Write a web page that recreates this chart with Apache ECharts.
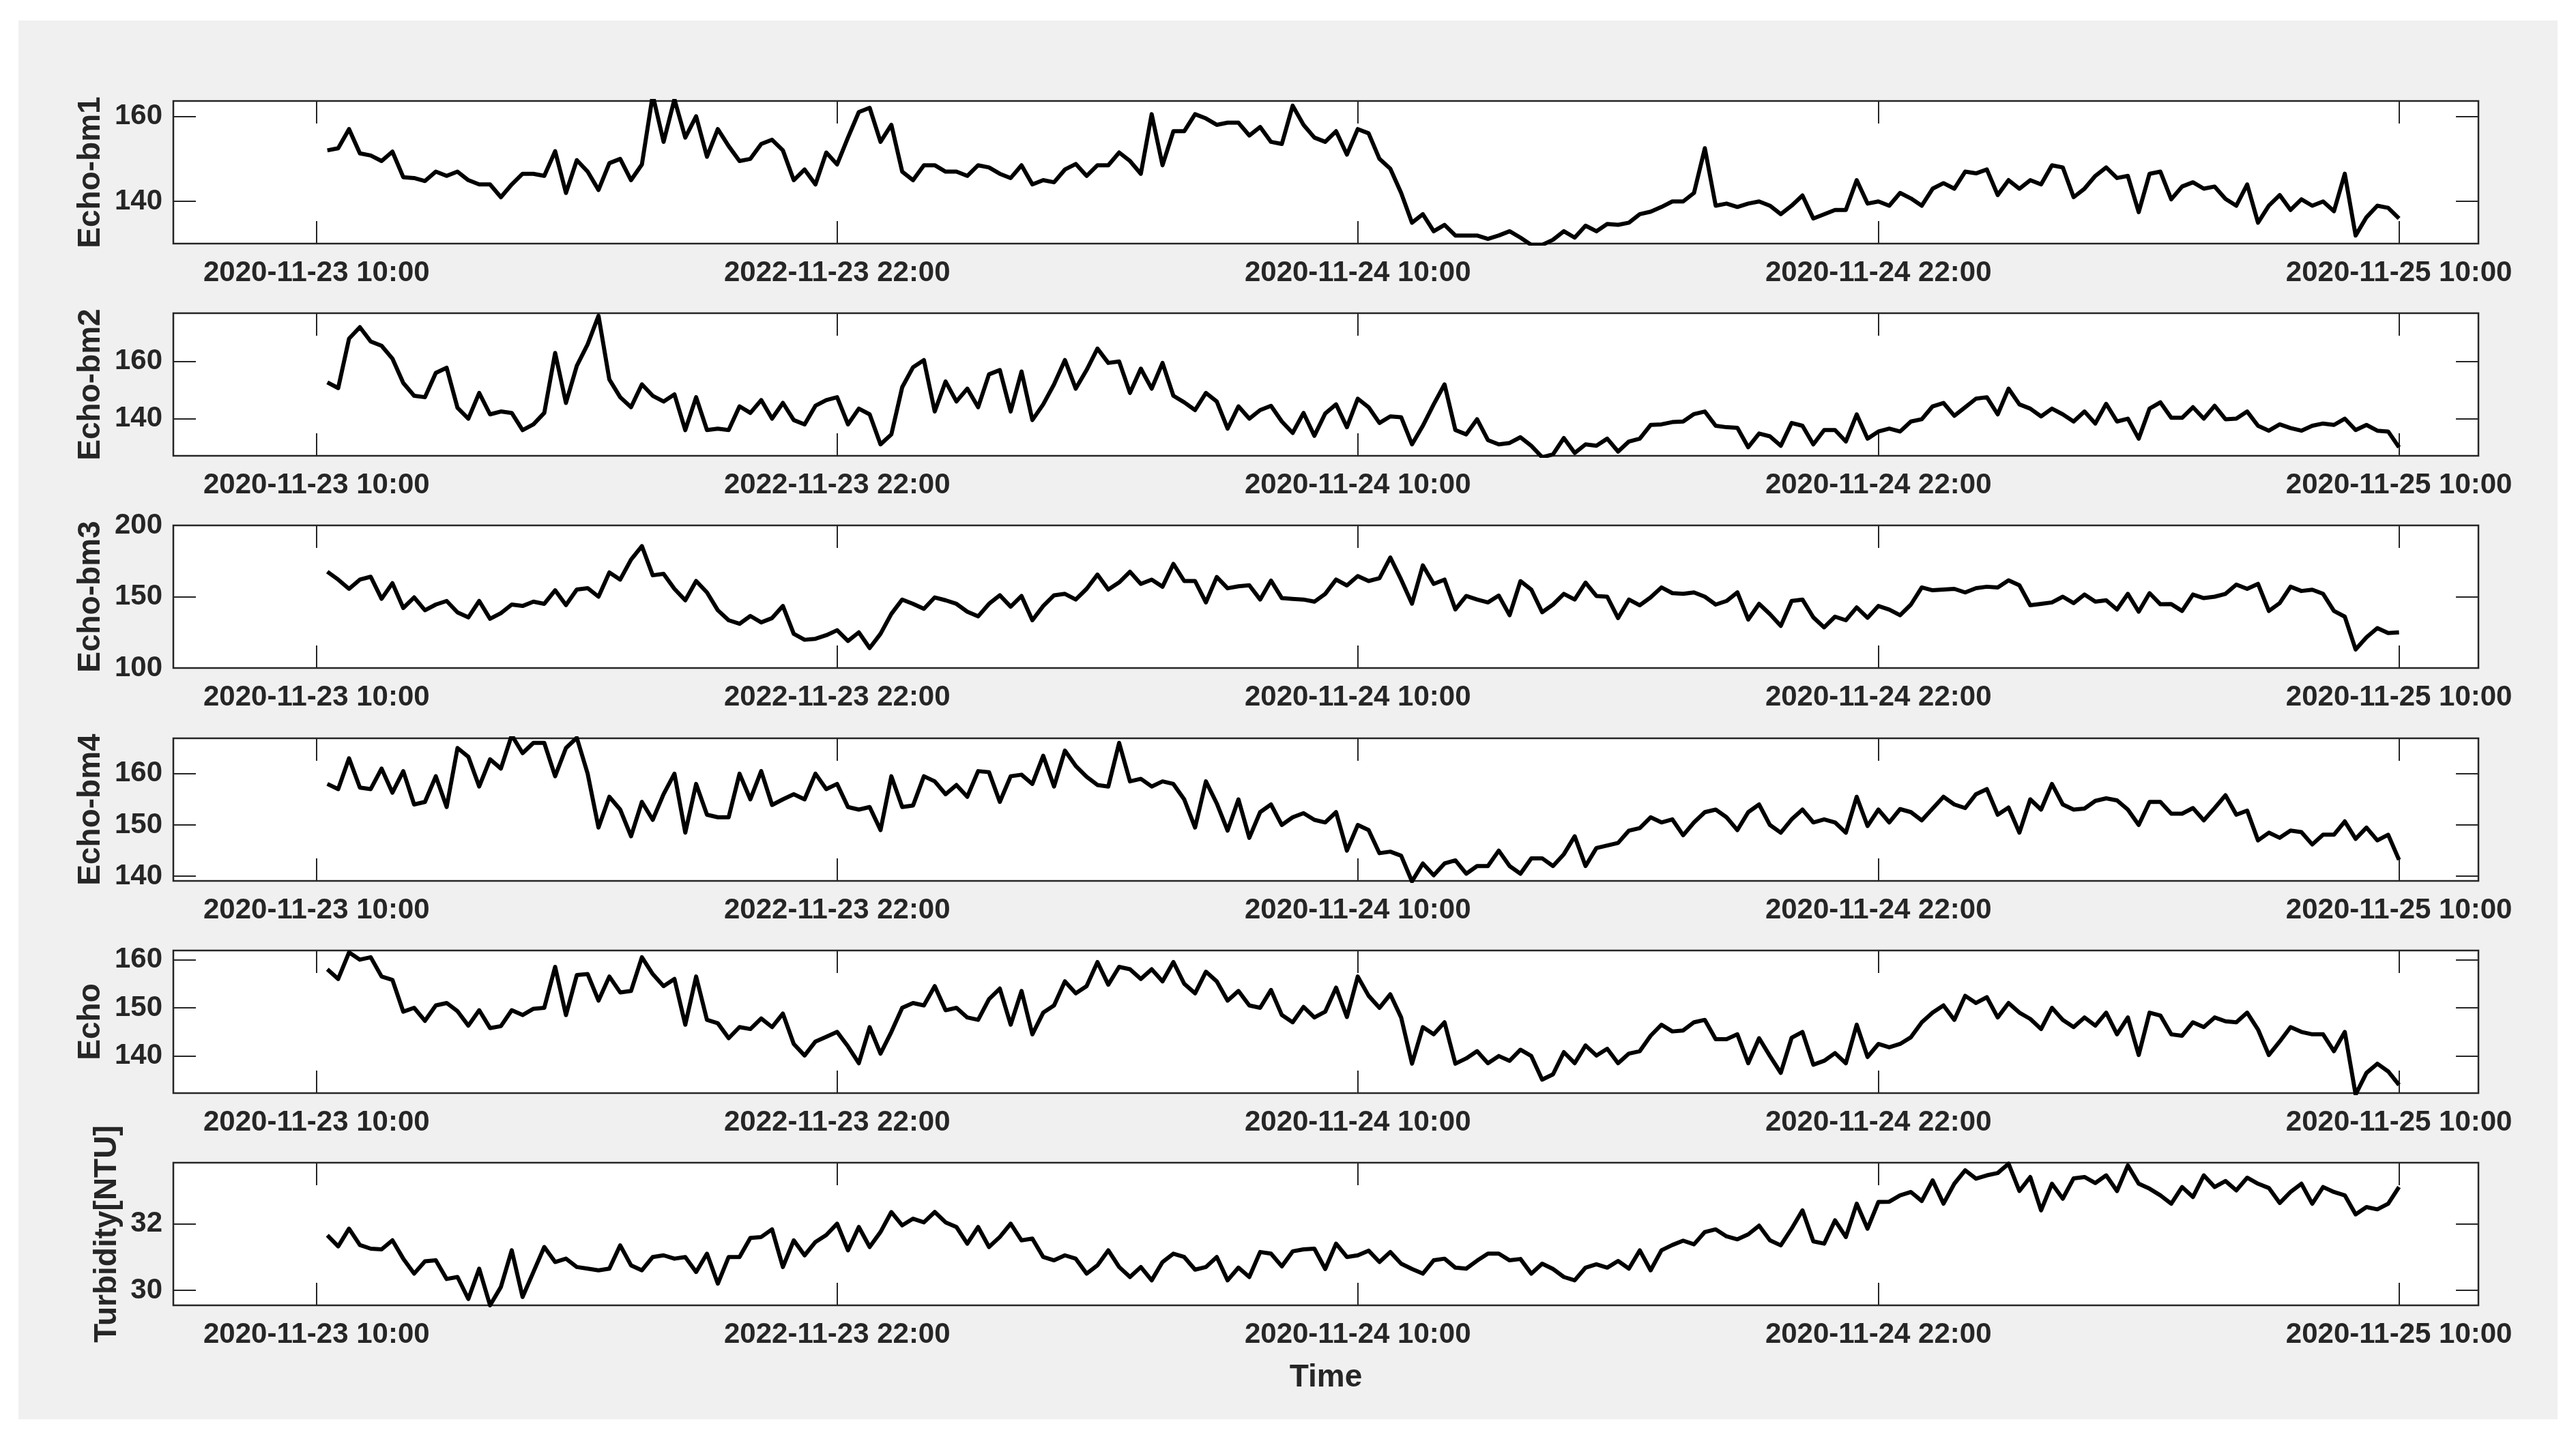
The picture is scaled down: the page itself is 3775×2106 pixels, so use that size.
<!DOCTYPE html>
<html>
<head>
<meta charset="utf-8">
<title>Echo / Turbidity</title>
<script src="https://cdn.jsdelivr.net/npm/echarts@6/dist/echarts.min.js"></script>
<style>
    html, body { margin: 0; padding: 0; background: #fff; }
    #chart { width: 3775px; height: 2106px; }
</style>
</head>
<body>
<div id="chart"></div>
<script>
// sampling: hours since 2020-11-23 00:00, one reading every 15 min
var startHour = 10.25;
var stepHour = 0.25;

var tickHours = [10, 22, 34, 46, 58];
var tickLabels = ['2020-11-23 10:00', '2022-11-23 22:00', '2020-11-24 10:00', '2020-11-24 22:00', '2020-11-25 10:00'];

var panelNames = ['Echo-bm1', 'Echo-bm2', 'Echo-bm3', 'Echo-bm4', 'Echo', 'Turbidity[NTU]'];
var yMin = [130.1, 127, 100, 139.1, 132.3, 29.55];
var yMax = [163.6, 176.9, 200, 166.9, 161.9, 33.83];
var yTicks = [[140, 160], [140, 160], [100, 150, 200], [140, 150, 160], [140, 150, 160], [30, 32]];

var echoBm1 = [
    152, 152.5, 157, 151.3, 150.8, 149.5, 151.7, 145.7, 145.5, 144.8, 147, 146, 147, 145, 144, 144, 141, 144, 146.5, 146.5,
    146, 151.8, 142, 149.7, 147, 142.7, 149, 150, 145, 148.7, 165, 154, 164, 155, 160, 150.5, 157, 153, 149.5, 150,
    153.5, 154.5, 152, 145, 147.5, 144, 151.5, 148.7, 155, 161,
    162, 154, 158, 147, 145, 148.5, 148.5, 147, 147, 146, 148.5, 148, 146.5, 145.5, 148.5, 144, 145, 144.5, 147.5, 148.8,
    146, 148.5, 148.5, 151.5, 149.5, 146.5, 160.5, 148.5, 156.5, 156.5, 160.5, 159.5, 158, 158.5, 158.5, 155.5, 157.5, 154, 153.5, 162.5,
    158, 155, 154, 156.5, 151, 157, 156, 150, 147.7, 142, 135, 137, 133, 134.5, 132, 132, 132, 131.2, 132, 133,
    131.5, 129.8, 129.8, 131, 133, 131.5, 134.3, 133, 134.7, 134.5, 135, 137, 137.6, 138.7, 140, 140, 142, 152.5,
    139, 139.5, 138.7, 139.5, 140, 139, 137, 139, 141.4, 136, 137, 138, 138, 145, 139.5, 140, 139, 142, 140.7, 139,
    143, 144.3, 143, 147, 146.6, 147.5, 141.5, 145, 143, 145, 144, 148.5, 148, 141, 143, 146, 148, 145.5, 146, 137.5,
    146.5, 147, 140.5, 143.5, 144.5, 143, 143.5, 140.6, 139, 144, 135, 139, 141.5, 138, 140.5, 139, 140, 137.7, 146.5, 132,
    136.3, 139, 138.5, 136
];

var echoBm2 = [
    152.7, 150.7, 168, 172, 167, 165.5, 161, 152.5, 148, 147.5, 156, 157.8, 143.8, 140, 149, 141.5, 142.5, 142, 136, 138,
    142, 163, 145.5, 158.5, 166, 176, 153.7, 147.5, 144, 152, 148, 146, 148.5, 136, 147.5, 136, 136.5, 136, 144.3, 142,
    146.5, 140, 145.5, 139.5, 138, 144.5, 146.5, 147.5, 138, 143.5,
    141.5, 131, 134.5, 151, 158, 160.5, 142.5, 153, 146, 150.5, 144, 155.5, 157, 142.5, 156.5, 139.5, 145, 152, 160.5, 150.5,
    157, 164.5, 159.5, 160, 149, 157.5, 150.5, 159.5, 148, 145.7, 143, 149, 146, 136.5, 144.3, 140, 143, 144.5, 139, 135,
    142, 134, 141.8, 145, 137, 147, 144, 138.5, 140.8, 140.5, 131, 137.5, 145, 152, 136, 134.5, 139.8, 132.5, 131, 131.5,
    133.5, 130.5, 126.5, 127.5, 133.2, 128, 131, 130.5, 133, 128.5, 132, 133, 137.8, 138, 138.8, 139, 141.6, 142.5,
    137.5, 137, 136.8, 130, 134.8, 133.8, 130.5, 138.5, 137.5, 131, 136, 136, 132, 141.5, 133, 135.5, 136.5, 135.5, 139, 139.8,
    144.3, 145.5, 141, 144, 147, 147.5, 141.5, 150.5, 145, 143.5, 140.8, 143.5, 141.5, 139, 142.5, 138.3, 145.2, 139, 140, 133,
    143.5, 145.7, 140.3, 140.3, 144, 140, 144.5, 139.8, 140, 142.5, 137.5, 135.8, 138, 136.7, 135.8, 137.5, 138.3, 137.8, 140, 136,
    137.8, 135.8, 135.5, 130
];

var echoBm3 = [
    167.5, 162, 155.5, 162, 164, 148.5, 159.5, 142.1, 149.5, 140.5, 144.5, 147, 139, 135.5, 147, 134.5, 138.5, 144.5, 143.5, 146.5,
    145, 154.5, 144.1, 155, 156, 150, 167, 162, 176, 185.5, 165, 166, 155.5, 147.5, 161, 153, 140.5, 133.5, 131, 136.5,
    132, 135, 143.5, 124, 119.8, 120.5, 123, 126.5, 119, 125,
    114, 124, 138, 148, 145, 141.5, 149.5, 147.5, 145, 139.5, 136.2, 145, 151, 143, 150.5, 133.5, 143.5, 151, 152, 148,
    155.5, 165.5, 155, 160, 167.5, 159, 162, 157, 173, 161, 161, 146, 163.8, 155.9, 157.3, 158, 148, 161.3, 149, 148.5,
    148, 146.5, 152, 162, 157.9, 164.5, 161, 163, 177.5, 162, 145.1, 172, 159, 162, 141.1, 150.5, 148, 146, 150.8, 137,
    160.9, 155, 139.1, 144.5, 152, 148, 159.9, 150.5, 150, 135, 148, 144, 149.5, 156.5, 152.5, 152, 153, 150,
    144.5, 147, 153, 134, 145, 137.8, 129.5, 147, 148, 135.5, 128.5, 136, 133.5, 142.5, 135.2, 143.5, 141, 137, 144.5, 156.5,
    154.5, 155, 155.5, 153, 156, 157, 156.5, 161.5, 158, 144, 145, 146, 150, 145.5, 151.5, 146.5, 147.5, 141, 152, 139.5,
    152.5, 144.7, 144.8, 140, 151.5, 149, 150, 152, 158.5, 155.5, 159, 140, 145.5, 157, 154, 154.9, 152, 140, 136, 113,
    121.5, 128, 124.5, 125
];

var echoBm4 = [
    158, 157, 163, 157.3, 157, 161, 156.3, 160.5, 154, 154.5, 159.5, 153.5, 165, 163.3, 157.5, 162.8, 161, 167.5, 164, 166,
    166, 159.5, 165, 167, 160, 149.5, 155.5, 153, 147.8, 154.5, 151, 156, 160, 148.5, 158, 152, 151.5, 151.5, 160, 155,
    160.5, 153.9, 155, 156, 155, 160, 157, 158, 153.5, 153,
    153.5, 149, 159.5, 153.5, 153.8, 159.5, 158.5, 156, 157.8, 155.5, 160.5, 160.3, 154.5, 159.5, 159.8, 158, 163.5, 157.5, 164.5, 161.5,
    159.4, 157.8, 157.5, 166, 158.5, 159, 157.5, 158.5, 158, 155, 149.5, 158.5, 154.2, 148.9, 155, 147.5, 152.5, 154, 150, 151.5,
    152.3, 151, 150.5, 152.5, 145, 150, 149, 144.5, 144.8, 144, 139, 142.5, 140.2, 142.5, 143.1, 140.5, 142, 142, 145, 142,
    140.5, 143.5, 143.5, 142, 144.3, 147.8, 142, 145.5, 146, 146.5, 148.9, 149.4, 151.5, 150.5, 151.1, 148, 150.5, 152.5,
    153, 151.5, 149, 152.5, 154, 150, 148.5, 151.1, 153, 150.5, 151.1, 150.5, 148.5, 155.5, 149.8, 153, 150.5, 153.1, 152.5, 150.9,
    153.2, 155.5, 154, 153.3, 156, 157, 152, 153.4, 148.5, 155, 153, 158, 154, 153, 153.2, 154.7, 155.2, 154.8, 153, 150,
    154.5, 154.5, 152.2, 152.2, 153.3, 150.9, 153.3, 155.8, 152, 152.8, 147, 148.5, 147.5, 148.9, 148.6, 146.2, 148.1, 148.1, 150.7, 147.3,
    149.5, 147, 148.1, 143.2
];

var echo = [
    158, 156, 161.5, 160, 160.5, 156.5, 155.8, 149.2, 150, 147.3, 150.5, 151, 149.3, 146.3, 149.5, 145.8, 146.2, 149.5, 148.5, 149.8,
    150, 158.5, 148.5, 156.8, 157, 151.5, 156.5, 153.2, 153.5, 160.5, 157, 154.5, 156, 146.5, 156.5, 147.5, 146.8, 143.7, 146, 145.6,
    147.8, 146, 148.8, 142.5, 140.1, 143, 144, 145, 142, 138.5,
    146, 140.5, 145, 150, 151, 150.5, 154.5, 149.5, 150, 148, 147.5, 151.8, 154, 146.5, 153.5, 144.5, 149, 150.5, 155.5, 153,
    154.5, 159.5, 154.8, 158.5, 158, 156, 158, 155.5, 159.5, 155, 153, 157.5, 155.5, 151.5, 153.5, 150.5, 150, 153.7, 148.5, 147,
    150.2, 148, 149.2, 154.2, 148.1, 156.5, 152.5, 150, 152.8, 148, 138.4, 146, 144.5, 147, 138.4, 139.5, 141, 138.5, 140, 139,
    141.3, 140, 135.1, 136.2, 140.8, 138.5, 142.2, 140.1, 141.5, 138.5, 140.5, 141, 144.2, 146.5, 145.1, 145.3, 147, 147.5,
    143.5, 143.5, 144.5, 138.5, 143.7, 140, 136.5, 143.8, 145, 138.2, 139, 140.6, 138.5, 146.5, 139.8, 142.5, 141.8, 142.5, 143.9, 147,
    149, 150.5, 147.5, 152.5, 151, 152.2, 148, 151, 149, 147.7, 145.6, 150, 147.5, 146, 148, 146.3, 149, 144.5, 148, 140.2,
    149, 148.4, 144.5, 144.2, 147, 146, 148, 147.2, 147, 149, 145.5, 140.2, 143, 146, 145, 144.5, 144.5, 141, 145, 132,
    136.5, 138.4, 136.8, 134
];

var turbidity = [
    31.65, 31.32, 31.85, 31.36, 31.25, 31.23, 31.5, 30.95, 30.5, 30.87, 30.9, 30.34, 30.4, 29.74, 30.65, 29.55, 30.1, 31.2, 29.8, 30.55,
    31.3, 30.85, 30.95, 30.7, 30.65, 30.6, 30.65, 31.35, 30.75, 30.6, 31.0, 31.05, 30.95, 31.0, 30.55, 31.1, 30.2, 31.0, 31.0, 31.57,
    31.6, 31.83, 30.7, 31.5, 31.05, 31.45, 31.66, 32.0, 31.2, 31.9,
    31.3, 31.75, 32.35, 31.95, 32.15, 32.04, 32.35, 32.04, 31.9, 31.4, 31.9, 31.3, 31.6, 32.0, 31.5, 31.55, 31.0, 30.9, 31.05, 30.95,
    30.5, 30.75, 31.2, 30.7, 30.4, 30.7, 30.3, 30.85, 31.1, 31.0, 30.62, 30.7, 31.0, 30.3, 30.68, 30.4, 31.15, 31.1, 30.72, 31.17,
    31.23, 31.25, 30.64, 31.4, 31.0, 31.05, 31.19, 30.85, 31.15, 30.8, 30.64, 30.5, 30.9, 30.95, 30.68, 30.65, 30.89, 31.1, 31.1, 30.9,
    30.94, 30.5, 30.8, 30.64, 30.4, 30.3, 30.68, 30.78, 30.68, 30.88, 30.65, 31.2, 30.6, 31.2, 31.36, 31.49, 31.38, 31.75,
    31.83, 31.62, 31.53, 31.68, 31.94, 31.5, 31.35, 31.85, 32.4, 31.47, 31.4, 32.1, 31.6, 32.6, 31.85, 32.65, 32.66, 32.85, 32.95, 32.68,
    33.3, 32.6, 33.2, 33.6, 33.35, 33.45, 33.52, 33.8, 32.98, 33.4, 32.4, 33.2, 32.75, 33.36, 33.4, 33.22, 33.45, 32.98, 33.75, 33.2,
    33.05, 32.85, 32.6, 33.1, 32.8, 33.45, 33.1, 33.28, 33.0, 33.38, 33.2, 33.07, 32.62, 32.95, 33.2, 32.6, 33.1, 32.95, 32.85, 32.28,
    32.5, 32.43, 32.6, 33.1
];

var panelData = [echoBm1, echoBm2, echoBm3, echoBm4, echo, turbidity];

var myChart = echarts.init(document.getElementById('chart'));

var FONT = 'Liberation Sans, Arial, Helvetica, sans-serif';
var INK = '#262626';
var gridTops = [148, 459, 770, 1082, 1393, 1704];

var grids = [], xAxes = [], yAxes = [], series = [];

function xLabel(v) {
    var k = tickHours.indexOf(v);
    return k >= 0 ? tickLabels[k] : '';
}

panelNames.forEach(function (name, p) {
    grids.push({
        left: 254, top: gridTops[p], width: 3378, height: 209,
        show: true, backgroundColor: '#fff', borderColor: INK, borderWidth: 2.5
    });
    // bottom axis with labels, top axis only ticks
    ['bottom', 'top'].forEach(function (pos) {
        var ax = {
            type: 'value', gridIndex: p, position: pos, min: 6.7, max: 59.83,
            axisLine: { show: false },
            splitLine: { show: false },
            axisTick: { show: true, inside: true, length: 33, customValues: tickHours, lineStyle: { color: INK, width: 2 } },
            axisLabel: {
                show: pos === 'bottom', customValues: tickHours, formatter: xLabel,
                fontSize: 42, fontWeight: 'bold', fontFamily: FONT, color: INK, margin: 22
            }
        };
        if (pos === 'bottom' && p === panelNames.length - 1) {
            ax.name = 'Time';
            ax.nameLocation = 'middle';
            ax.nameGap = 83;
            ax.nameTextStyle = { fontSize: 46, fontWeight: 'bold', fontFamily: FONT, color: INK };
        }
        xAxes.push(ax);
    });
    ['left', 'right'].forEach(function (pos) {
        var ay = {
            type: 'value', gridIndex: p, position: pos, min: yMin[p], max: yMax[p],
            axisLine: { show: false },
            splitLine: { show: false },
            axisTick: { show: true, inside: true, length: 33, customValues: yTicks[p], lineStyle: { color: INK, width: 2 } },
            axisLabel: {
                show: pos === 'left', customValues: yTicks[p],
                fontSize: 42, fontWeight: 'bold', fontFamily: FONT, color: INK, margin: 16
            }
        };
        if (pos === 'left') {
            ay.name = name;
            ay.nameLocation = 'middle';
            ay.nameRotate = 90;
            ay.nameGap = p === 5 ? 74 : 98;
            ay.nameTextStyle = { fontSize: 46, fontWeight: 'bold', fontFamily: FONT, color: INK };
        }
        yAxes.push(ay);
    });
    series.push({
        name: name,
        type: 'line',
        xAxisIndex: p * 2,
        yAxisIndex: p * 2,
        showSymbol: false,
        symbol: 'none',
        clip: true,
        lineStyle: { color: '#000', width: 6, join: 'round' },
        data: panelData[p].map(function (v, i) { return [startHour + i * stepHour, v]; })
    });
});

var option = {
    animation: false,
    backgroundColor: '#fff',
    graphic: [{
        type: 'rect', left: 27, top: 30, z: -10,
        shape: { width: 3721, height: 2050 },
        style: { fill: '#f0f0f0' }
    }],
    grid: grids,
    xAxis: xAxes,
    yAxis: yAxes,
    series: series
};

myChart.setOption(option);
</script>
</body>
</html>
